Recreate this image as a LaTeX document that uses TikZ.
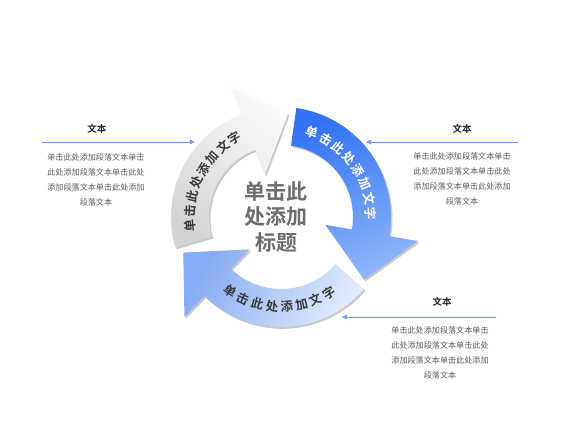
\documentclass[tikz,border=0pt]{standalone}
\usepackage{fontspec}
\newfontfamily\cjk{Noto Sans CJK SC}[BoldFont={Noto Sans CJK SC Bold}]
\usetikzlibrary{shadows,arrows.meta}
\definecolor{lineblue}{HTML}{6F9DF2}
\definecolor{paratext}{HTML}{5A5A5A}
\definecolor{headtext}{HTML}{262626}
\definecolor{titletext}{HTML}{6D6D6D}
\definecolor{arcgraytext}{HTML}{3A3A3A}
\tikzset{
  arrowshadow/.style={drop shadow={shadow xshift=1.5pt,shadow yshift=-1.8pt,opacity=0.35,fill=black!60}},
  grayarrow/.style={arrowshadow,top color=white!98!black,bottom color=black!17,shading angle=-45},
  bluearrow/.style={arrowshadow,top color={rgb,255:red,50;green,115;blue,245},bottom color={rgb,255:red,141;green,182;blue,248},shading angle=20},
  lightarrow/.style={arrowshadow,top color={rgb,255:red,134;green,172;blue,243},bottom color={rgb,255:red,226;green,235;blue,252},shading angle=60},
  arctxt/.style={font=\cjk\bfseries\fontsize{12.5}{13}\selectfont,inner sep=0pt},
  headlbl/.style={font=\cjk\bfseries\fontsize{9.5}{10}\selectfont,text=headtext,inner sep=0pt},
  paralbl/.style={font=\cjk\fontsize{8.1}{15}\selectfont,text=paratext,align=center,inner sep=0pt},
  pointer/.style={draw=lineblue,line width=0.9pt,-{Triangle[length=5pt,width=4.5pt]}},
}
\newcommand\ringarrow[4]{%
  \path[#1] (#2:110pt) arc[start angle=#2,end angle=#3,radius=110pt]
    -- (#3:139pt) -- (#4:104pt) -- (#3:45pt) -- (#3:72pt)
    arc[start angle=#3,end angle=#2,radius=72pt] -- cycle;}
\begin{document}
\begin{tikzpicture}[x=1pt,y=1pt]
\useasboundingbox[fill=white] (-281,-214) rectangle (299,217);
% ring arrows
\ringarrow{lightarrow}{-41}{-134}{-160}
\ringarrow{grayarrow}{196}{111}{86}
\ringarrow{bluearrow}{82}{-10}{-37}
% arc texts
\foreach \c [count=\i from 0] in {单,击,此,处,添,加,文,字}{
  \pgfmathsetmacro\ang{153+(3.5-\i)*9.3}
  \pgfmathsetmacro\rot{\ang-90}
  \node[arctxt,text=arcgraytext,rotate=\rot] (g\i) at (\ang:91pt) {\c};
}
\foreach \c [count=\i from 0] in {单,击,此,处,添,加,文,字}{
  \pgfmathsetmacro\ang{36+(3.5-\i)*9.6}
  \pgfmathsetmacro\rot{\ang-90}
  \node[arctxt,text=white,rotate=\rot] (b\i) at (\ang:90pt) {\c};
}
\foreach \c [count=\i from 0] in {单,击,此,处,添,加,文,字}{
  \pgfmathsetmacro\ang{-91-(3.5-\i)*9.5}
  \pgfmathsetmacro\rot{\ang+90}
  \node[arctxt,text=arcgraytext,rotate=\rot] (l\i) at (\ang:90pt) {\c};
}
% title
\node[font=\cjk\bfseries\fontsize{21}{25.5}\selectfont,text=titletext,align=center,inner sep=0pt] (title) at (-5,0) {单击此\\处添加\\标题};
% left block
\node[headlbl] (h1) at (-184,88) {文本};
\coordinate (s1) at (-239,75);
\coordinate (e1) at (-86,75);
\draw[pointer] (s1) -- (e1);
\node[paralbl] (p1) at (-185,37.5) {单击此处添加段落文本单击\\此处添加段落文本单击此处\\添加段落文本单击此处添加\\段落文本};
% right block
\node[headlbl] (h2) at (181,88) {文本};
\coordinate (s2) at (237,75);
\coordinate (e2) at (85,75);
\draw[pointer] (s2) -- (e2);
\node[paralbl] (p2) at (181,38.5) {单击此处添加段落文本单击\\此处添加段落文本单击此处\\添加段落文本单击此处添加\\段落文本};
% bottom right block
\node[headlbl] (h3) at (161,-85) {文本};
\coordinate (s3) at (215,-100);
\coordinate (e3) at (61,-100);
\draw[pointer] (s3) -- (e3);
\node[paralbl] (p3) at (159,-135.5) {单击此处添加段落文本单击\\此处添加段落文本单击此处\\添加段落文本单击此处添加\\段落文本};
\end{tikzpicture}
\end{document}
